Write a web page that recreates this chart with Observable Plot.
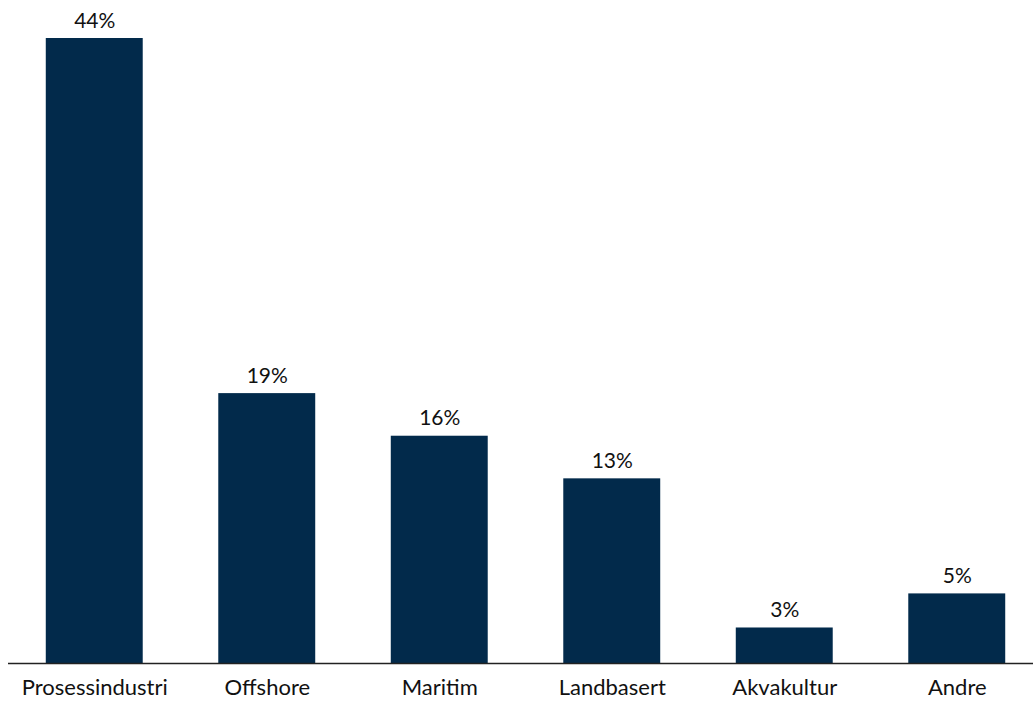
<!DOCTYPE html>
<html>
<head>
<meta charset="utf-8">
<script src="https://cdn.jsdelivr.net/npm/d3@7"></script>
<script src="https://cdn.jsdelivr.net/npm/@observablehq/plot@0.6"></script>
<style>
  html, body { margin: 0; padding: 0; background: #fff; }
  #chart svg { display: block; }
</style>
</head>
<body>
<div id="chart"></div>
<script>
const categories = ["Prosessindustri", "Offshore", "Maritim", "Landbasert", "Akvakultur", "Andre"];
const values = [44.0, 19.0, 16.0, 13.0, 2.5, 4.9];
const labels = ["44%", "19%", "16%", "13%", "3%", "5%"];

const data = categories.map((c, i) => ({category: c, value: values[i], label: labels[i]}));

const fontFamily = "Lato, Carlito, Calibri, 'Liberation Sans', sans-serif";

const chart = Plot.plot({
  width: 1033,
  height: 701,
  marginLeft: 8,
  marginRight: 0,
  marginTop: 38,
  marginBottom: 38,
  style: {fontFamily, fontSize: "22px", color: "#000", background: "#fff", overflow: "visible"},
  x: {domain: categories, range: [8, 1043], round: false, paddingInner: 0.438, paddingOuter: 0.219, label: null},
  y: {domain: [0, 44], axis: null},
  marks: [
    Plot.barY(data, {x: "category", y: "value", fill: "#022a4b"}),
    Plot.text(data, {x: "category", y: "value", text: "label", lineAnchor: "bottom", dy: -11, fill: "#111", fontSize: 21}),
    Plot.ruleY([0], {stroke: "#222", strokeWidth: 1.5}),
    Plot.axisX({tickSize: 0, tickPadding: 16, fontSize: 22, fill: "#111", label: null})
  ]
});
document.getElementById("chart").appendChild(chart);
</script>
</body>
</html>
